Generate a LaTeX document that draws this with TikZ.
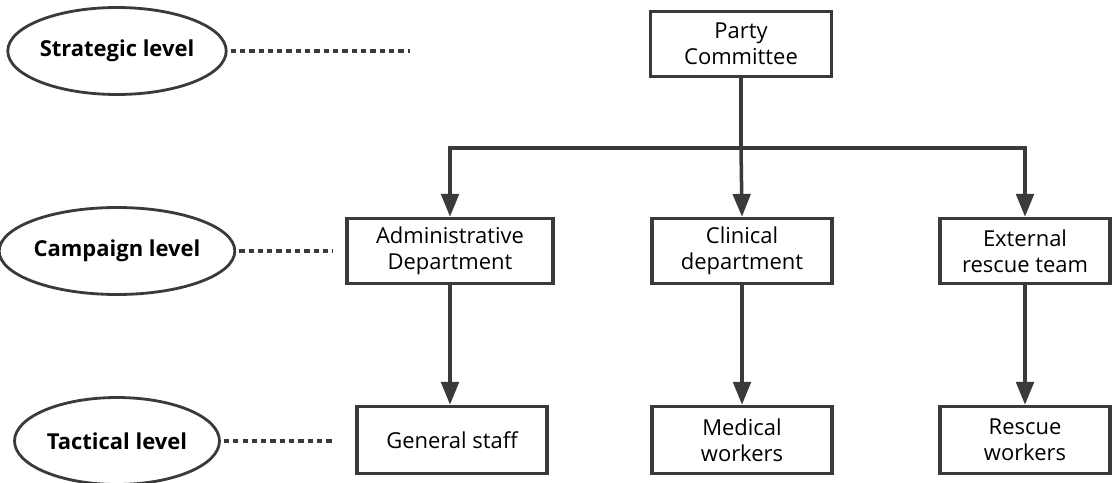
\documentclass[tikz,border=0pt]{standalone}
\usepackage{fontspec}
\setmainfont{Open Sans}
\usepackage{tikz}
\usetikzlibrary{shapes.geometric,arrows.meta}

\definecolor{linegray}{HTML}{3A3A3A}

\tikzset{
  levelnode/.style={draw=linegray, line width=1.6pt, ellipse, minimum width=4.1cm,
    minimum height=1.74cm, font=\fontsize{12.5}{14}\selectfont\bfseries, inner sep=0pt},
  unitbox/.style={draw=linegray, line width=2pt, rectangle, minimum height=1.3cm,
    align=center, font=\fontsize{12.5}{15}\selectfont, inner sep=0pt},
  arr/.style={draw=linegray, line width=2pt, -{Triangle[length=13pt,width=10pt]}},
  dots/.style={draw=linegray, line width=1.9pt, dash pattern=on 3pt off 2.3pt}
}

\begin{document}
\begin{tikzpicture}[x=0.02cm,y=-0.02cm]
\useasboundingbox (0,0) rectangle (1118,483);

% levels
\node[levelnode] (strat) at (117,51) {Strategic level};
\node[levelnode] (camp) at (117,251) {Campaign level};
\node[levelnode] (tact) at (117,441) {Tactical level};
\coordinate (stratEnd) at (410,51);
\coordinate (campEnd) at (333,251);
\coordinate (tactEnd) at (333,441);
\draw[dots] (strat.east) ++(3,0) -- (stratEnd);
\draw[dots] (camp.east) ++(3,0) -- (campEnd);
\draw[dots] (tact.east) ++(3,0) -- (tactEnd);

% boxes
\node[unitbox, minimum width=3.62cm] (party) at (741,44) {Party\\Committee};
\node[unitbox, minimum width=4.12cm] (admin) at (450,251) {Administrative\\Department};
\node[unitbox, minimum width=3.6cm] (clin) at (742,251) {Clinical\\department};
\node[unitbox, minimum width=3.4cm] (ext) at (1025,251) {External\\rescue team};
\node[unitbox, minimum width=3.8cm, minimum height=1.34cm] (staff) at (452,440) {General staff};
\node[unitbox, minimum width=3.6cm, minimum height=1.34cm] (med) at (742,440) {Medical\\workers};
\node[unitbox, minimum width=3.4cm, minimum height=1.34cm] (resc) at (1025,440) {Rescue\\workers};

% connectors
\coordinate (split) at (741,148);
\draw[draw=linegray, line width=2pt] (party.south) -- (split);
\draw[arr] (split) -| (admin.north);
\draw[arr] (split) -- (clin.north);
\draw[arr] (split) -| (ext.north);
\draw[arr] (admin.south) -- (admin.south |- staff.north);
\draw[arr] (clin.south) -- (med.north);
\draw[arr] (ext.south) -- (resc.north);
\end{tikzpicture}
\end{document}
